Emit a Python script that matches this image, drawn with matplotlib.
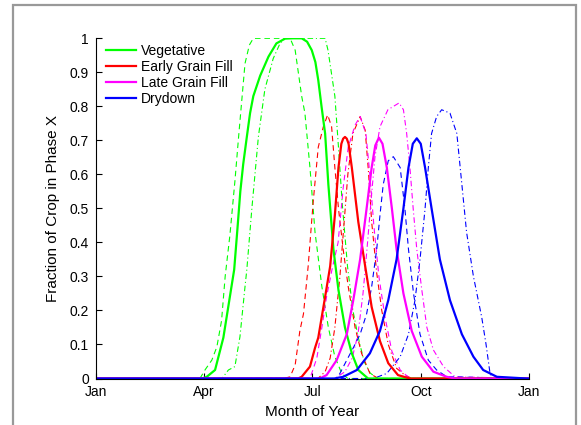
"""
plot.py

Fraction of crop in each growth phase through the year.
Solid = baseline, dashed = early run, dash-dot = late run.
"""
import matplotlib
matplotlib.use("Agg")
import matplotlib.pyplot as plt
from matplotlib.patches import Rectangle

plt.rcParams["font.family"] = ["Liberation Sans", "DejaVu Sans"]

# x in months since Jan 1 (0..12), y = fraction of crop in phase
MONTH_TICKS = [0, 3, 6, 9, 12]
MONTH_LABELS = ["Jan", "Apr", "Jul", "Oct", "Jan"]
Y_TICKS = [0, 0.1, 0.2, 0.3, 0.4, 0.5, 0.6, 0.7, 0.8, 0.9, 1.0]
Y_LABELS = ["0", "0.1", "0.2", "0.3", "0.4", "0.5", "0.6", "0.7", "0.8", "0.9", "1"]

PHASES = ["Vegetative", "Early Grain Fill", "Late Grain Fill", "Drydown"]
COLORS = ["#00ff00", "#ff0000", "#ff00ff", "#0000ff"]

# ---------- Vegetative ----------
veg_x = [0, 2.95, 3.07, 3.30, 3.53, 3.71, 3.83, 3.92, 4.00, 4.08, 4.18, 4.27, 4.36, 4.55,
         4.78, 5.00, 5.24, 5.45, 5.70, 5.85, 5.98, 6.08, 6.16, 6.25, 6.35, 6.44, 6.58,
         6.72, 6.90, 7.09, 7.27, 7.54, 12]
veg_y = [0, 0, 0.005, 0.025, 0.12, 0.24, 0.32, 0.44, 0.55, 0.63, 0.71, 0.78, 0.83, 0.89,
         0.946, 0.985, 0.999, 1.0, 1.0, 0.99, 0.965, 0.93, 0.877, 0.80, 0.72, 0.57, 0.38,
         0.26, 0.15, 0.074, 0.025, 0, 0]

veg_early_x = [0, 2.88, 3.02, 3.21, 3.35, 3.48, 3.58, 3.71, 3.85, 3.96, 4.13, 4.25, 4.36,
               5.38, 5.52, 5.70, 5.79, 5.93, 6.07, 6.26, 6.44, 6.62, 6.81, 6.98, 12]
veg_early_y = [0, 0, 0.025, 0.054, 0.093, 0.17, 0.30, 0.42, 0.58, 0.72, 0.926, 0.98, 1.0,
               1.0, 0.965, 0.83, 0.78, 0.62, 0.43, 0.27, 0.15, 0.064, 0.015, 0, 0]

veg_late_x = [0, 3.49, 3.67, 3.85, 3.99, 4.13, 4.18, 4.32, 4.50, 4.68, 4.91, 5.10, 5.24,
              6.35, 6.43, 6.62, 6.72, 6.82, 6.97, 7.12, 7.27, 7.43, 7.60, 7.80, 12]
veg_late_y = [0, 0, 0.025, 0.035, 0.123, 0.27, 0.32, 0.50, 0.71, 0.85, 0.94, 0.985, 1.0,
              1.0, 0.965, 0.83, 0.68, 0.52, 0.33, 0.20, 0.12, 0.05, 0.016, 0, 0]

# ---------- Early Grain Fill ----------
egf_x = [0, 5.60, 5.70, 5.93, 6.07, 6.16, 6.35, 6.49, 6.62, 6.72, 6.80, 6.85, 6.90, 6.95,
         7.00, 7.09, 7.27, 7.46, 7.64, 7.87, 8.10, 8.37, 8.70, 12]
egf_y = [0, 0, 0.005, 0.035, 0.09, 0.12, 0.24, 0.33, 0.48, 0.62, 0.69, 0.705, 0.71, 0.705,
         0.69, 0.62, 0.46, 0.33, 0.21, 0.11, 0.045, 0.01, 0, 0]

egf_early_x = [0, 5.20, 5.38, 5.52, 5.65, 5.75, 5.88, 6.02, 6.16, 6.30, 6.42, 6.53, 6.62,
               6.72, 6.85, 6.99, 7.18, 7.36, 7.59, 7.82, 12]
egf_early_y = [0, 0, 0.005, 0.04, 0.14, 0.19, 0.33, 0.52, 0.68, 0.74, 0.775, 0.74, 0.62,
               0.50, 0.38, 0.27, 0.15, 0.074, 0.015, 0, 0]

egf_late_x = [0, 6.15, 6.35, 6.49, 6.62, 6.76, 6.87, 6.98, 7.12, 7.32, 7.46, 7.55, 7.64,
              7.78, 7.92, 8.10, 8.33, 8.56, 8.76, 12]
egf_late_y = [0, 0, 0.02, 0.06, 0.15, 0.30, 0.45, 0.60, 0.72, 0.77, 0.73, 0.61, 0.46,
              0.31, 0.20, 0.10, 0.03, 0.01, 0, 0]

# ---------- Late Grain Fill ----------
lgf_x = [0, 6.20, 6.39, 6.67, 6.95, 7.13, 7.32, 7.50, 7.64, 7.74, 7.84, 7.94, 8.06, 8.20,
         8.33, 8.52, 8.75, 9.03, 9.35, 9.72, 9.95, 12]
lgf_y = [0, 0, 0.01, 0.054, 0.13, 0.23, 0.35, 0.50, 0.62, 0.685, 0.708, 0.69, 0.62, 0.50,
         0.38, 0.25, 0.14, 0.064, 0.02, 0.005, 0, 0]

lgf_early_x = [0, 5.93, 6.12, 6.26, 6.39, 6.54, 6.71, 6.85, 6.99, 7.18, 7.32, 7.48, 7.59,
               7.70, 7.84, 8.01, 8.20, 8.43, 8.70, 12]
lgf_early_y = [0, 0, 0.06, 0.15, 0.24, 0.32, 0.40, 0.56, 0.68, 0.745, 0.77, 0.72, 0.60,
               0.45, 0.30, 0.18, 0.08, 0.025, 0, 0]

lgf_late_x = [0, 6.62, 6.90, 7.10, 7.26, 7.40, 7.51, 7.62, 7.73, 7.87, 8.09, 8.40, 8.52,
              8.61, 8.70, 8.79, 8.89, 9.03, 9.17, 9.35, 9.63, 9.95, 12]
lgf_late_y = [0, 0, 0.02, 0.06, 0.13, 0.25, 0.38, 0.52, 0.65, 0.74, 0.79, 0.81, 0.79,
              0.72, 0.62, 0.50, 0.38, 0.26, 0.15, 0.084, 0.035, 0.005, 0]

# ---------- Drydown ----------
dry_x = [0, 6.60, 6.85, 7.23, 7.59, 7.87, 8.10, 8.33, 8.52, 8.66, 8.78, 8.89, 9.00, 9.12,
         9.30, 9.53, 9.81, 10.14, 10.46, 10.73, 11.11, 11.94, 12]
dry_y = [0, 0, 0.005, 0.025, 0.074, 0.14, 0.23, 0.35, 0.50, 0.62, 0.69, 0.706, 0.69, 0.62,
         0.50, 0.35, 0.23, 0.13, 0.064, 0.025, 0.005, 0, 0]

dry_early_x = [0, 6.67, 6.76, 6.95, 7.13, 7.32, 7.50, 7.64, 7.78, 7.87, 7.96, 8.10, 8.24,
               8.43, 8.56, 8.66, 8.80, 8.98, 9.21, 9.44, 9.72, 12]
dry_early_y = [0, 0, 0.015, 0.054, 0.09, 0.13, 0.19, 0.27, 0.38, 0.48, 0.57, 0.64, 0.652,
               0.62, 0.50, 0.38, 0.25, 0.13, 0.054, 0.025, 0.005, 0]

dry_late_x = [0, 7.69, 8.06, 8.43, 8.66, 8.84, 8.98, 9.12, 9.21, 9.30, 9.44, 9.58, 9.81,
              10.00, 10.14, 10.27, 10.46, 10.69, 10.81, 10.92, 11.00, 12]
dry_late_y = [0, 0, 0.015, 0.064, 0.13, 0.23, 0.35, 0.50, 0.62, 0.72, 0.77, 0.79, 0.78,
              0.72, 0.57, 0.43, 0.30, 0.18, 0.10, 0.015, 0, 0]

SERIES = [
    (veg_x, veg_y, veg_early_x, veg_early_y, veg_late_x, veg_late_y),
    (egf_x, egf_y, egf_early_x, egf_early_y, egf_late_x, egf_late_y),
    (lgf_x, lgf_y, lgf_early_x, lgf_early_y, lgf_late_x, lgf_late_y),
    (dry_x, dry_y, dry_early_x, dry_early_y, dry_late_x, dry_late_y),
]


def main() -> None:
    fig = plt.figure(figsize=(5.81, 4.25), dpi=100)
    ax = fig.add_axes([0.1652, 0.1094, 0.7453, 0.8005])

    # thin lines first, solid on top
    for color, (sx, sy, ex, ey, lx, ly) in zip(COLORS, SERIES):
        ax.plot(ex, ey, color=color, lw=0.8, ls=(0, (5, 3.5)))
        ax.plot(lx, ly, color=color, lw=0.8, ls=(0, (5, 2.5, 1, 2.5)))
    handles = []
    for name, color, (sx, sy, *_rest) in zip(PHASES, COLORS, SERIES):
        h, = ax.plot(sx, sy, color=color, lw=1.6, label=name)
        handles.append(h)

    ax.set_xlim(0, 12)
    ax.set_ylim(0, 1)
    ax.set_xticks(MONTH_TICKS)
    ax.set_xticklabels(MONTH_LABELS)
    ax.set_yticks(Y_TICKS)
    ax.set_yticklabels(Y_LABELS)
    ax.tick_params(direction="in", length=4, width=0.8, labelsize=10)
    ax.tick_params(axis="x", pad=5)
    ax.tick_params(axis="y", pad=5)
    for side in ("top", "right"):
        ax.spines[side].set_visible(False)
    for side in ("left", "bottom"):
        ax.spines[side].set_linewidth(0.8)
    ax.set_xlabel("Month of Year", fontsize=11, labelpad=4)
    ax.set_ylabel("Fraction of Crop in Phase X", fontsize=11, labelpad=7)

    ax.legend(handles=handles, loc="upper left", bbox_to_anchor=(0.0, 1.012),
              frameon=False, fontsize=10, handlelength=2.2, handletextpad=0.35,
              labelspacing=0.15, borderaxespad=0.3)

    # grey window border around the figure
    fig.patches.append(Rectangle((13 / 581, -0.2), (576 - 13) / 581, 1.2 - 5 / 425,
                                 transform=fig.transFigure, fill=False,
                                 edgecolor="#999999", lw=1.6))

    fig.savefig("out.png", dpi=100)
    plt.close(fig)


if __name__ == "__main__":
    main()
